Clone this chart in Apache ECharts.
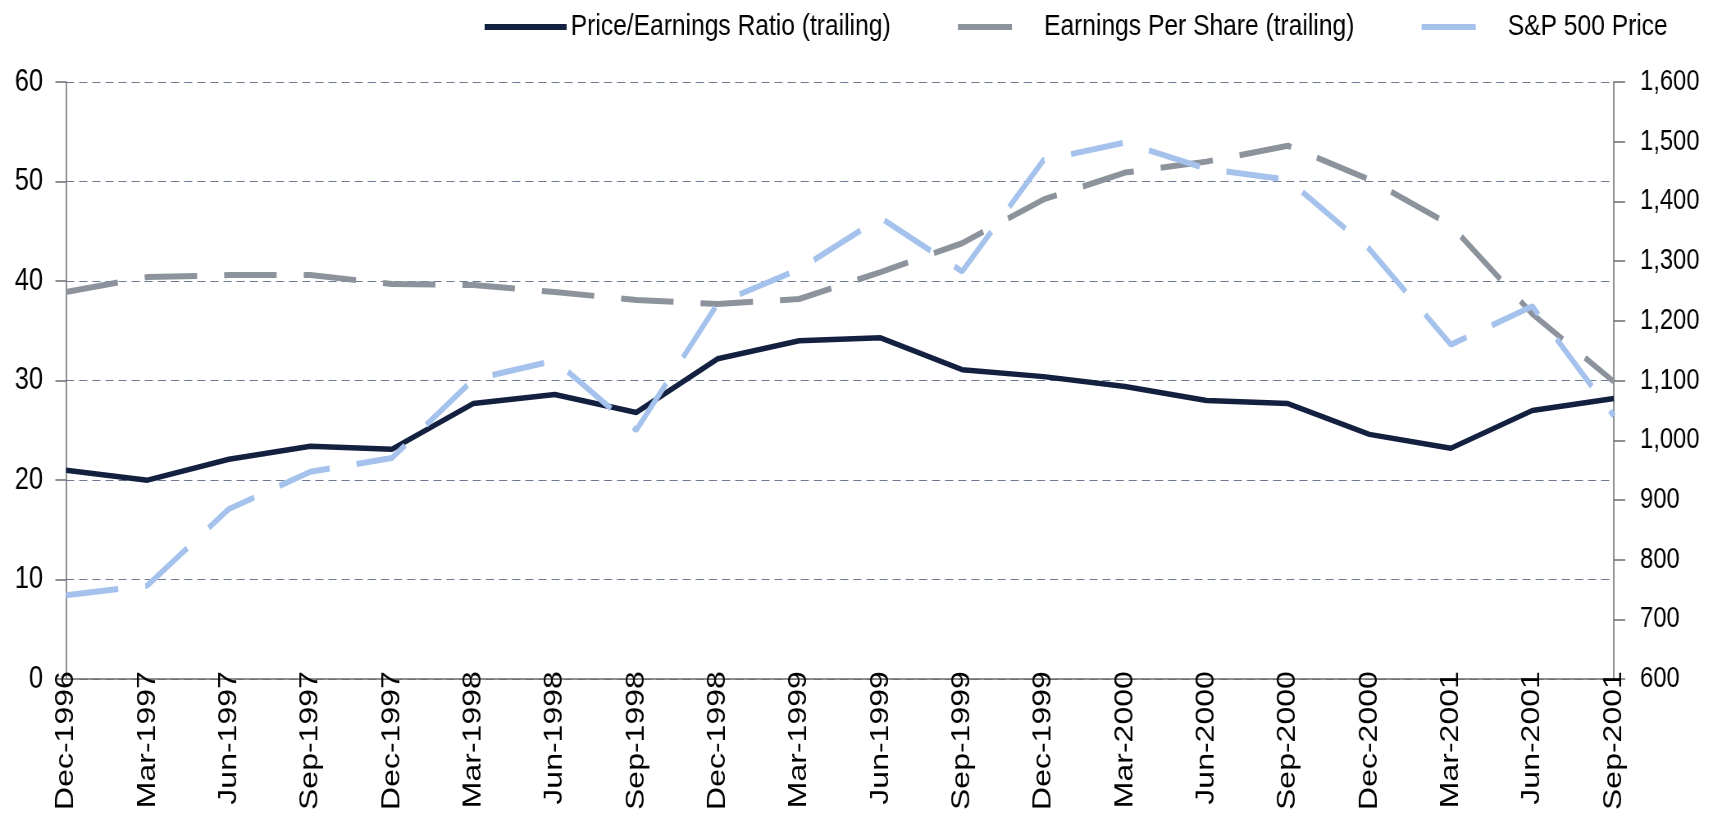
<!DOCTYPE html>
<html>
<head>
<meta charset="utf-8">
<script src="https://cdn.jsdelivr.net/npm/echarts@6/dist/echarts.min.js"></script>
<style>
  html, body { margin: 0; padding: 0; background: #fff; overflow: hidden; }
  /* the source chart is horizontally compressed; draw wider and squeeze to 1718px */
  #main { width: 2095px; height: 813px; transform: scaleX(0.82); transform-origin: 0 0; }
</style>
</head>
<body>
<div id="main"></div>
<script>
var quarters = ['Dec-1996', 'Mar-1997', 'Jun-1997', 'Sep-1997', 'Dec-1997', 'Mar-1998', 'Jun-1998', 'Sep-1998',
  'Dec-1998', 'Mar-1999', 'Jun-1999', 'Sep-1999', 'Dec-1999', 'Mar-2000', 'Jun-2000', 'Sep-2000',
  'Dec-2000', 'Mar-2001', 'Jun-2001', 'Sep-2001'];
var peRatio = [21.0, 20.0, 22.1, 23.4, 23.1, 27.7, 28.6, 26.8, 32.2, 34.0, 34.3, 31.1, 30.4, 29.4, 28.0, 27.7, 24.6, 23.2, 27.0, 28.2];
var eps = [38.9, 40.4, 40.6, 40.6, 39.7, 39.6, 38.9, 38.1, 37.7, 38.2, 40.9, 43.8, 48.2, 50.9, 52.0, 53.6, 50.2, 45.6, 36.7, 29.9];
var spxPrice = [740.7, 757.1, 885.1, 947.3, 970.4, 1101.8, 1133.8, 1017.0, 1229.2, 1286.4, 1372.7, 1282.7, 1469.3, 1498.6, 1454.6, 1436.5, 1320.3, 1160.3, 1224.4, 1040.9];

var font = "'Liberation Sans', Arial, sans-serif";
var dash = [64, 33];
// legend shows a single dash for the dashed series
var legendDash = [66, 100];

var myChart = echarts.init(document.getElementById('main'));
var option = {
  animation: false,
  legend: {
    left: 583,
    top: 7,
    itemWidth: 100,
    itemHeight: 30,
    itemGap: 79,
    itemStyle: { opacity: 0 },
    lineStyle: { width: 6 },
    textStyle: { fontFamily: font, fontSize: 30, color: '#000' },
    data: [
      { name: 'Price/Earnings Ratio (trailing)' },
      { name: 'Earnings Per Share (trailing)', lineStyle: { width: 6, type: legendDash } },
      { name: 'S&P 500 Price', lineStyle: { width: 6, type: legendDash } }
    ]
  },
  grid: { left: 80.5, right: 127, top: 82, bottom: 131 },
  xAxis: {
    type: 'category',
    boundaryGap: false,
    data: quarters,
    axisLine: { lineStyle: { color: '#6b6b6b', width: 1.5 } },
    axisTick: { show: false },
    axisLabel: {
      rotate: 90,
      margin: -8,
      interval: 0,
      fontFamily: font,
      fontSize: 32,
      color: '#000'
    }
  },
  yAxis: [{
    type: 'value',
    min: 0,
    max: 60,
    interval: 10,
    axisLine: { show: true, lineStyle: { color: '#6b6b6b', width: 1.5 } },
    axisTick: { show: true, length: 13, lineStyle: { color: '#6b6b6b', width: 1.5 } },
    axisLabel: { margin: 28, fontFamily: font, fontSize: 31, color: '#000' },
    splitLine: { show: true, lineStyle: { color: '#6e7a94', width: 1, type: [10, 6] } }
  }, {
    type: 'value',
    min: 600,
    max: 1600,
    interval: 100,
    position: 'right',
    axisLine: { show: true, lineStyle: { color: '#6b6b6b', width: 1.5 } },
    axisTick: { show: true, length: 14, lineStyle: { color: '#6b6b6b', width: 1.5 } },
    axisLabel: {
      margin: 32,
      fontFamily: font,
      fontSize: 29,
      color: '#000',
      formatter: function (v) { return v.toLocaleString('en-US'); }
    },
    splitLine: { show: false }
  }],
  series: [{
    name: 'Price/Earnings Ratio (trailing)',
    type: 'line',
    yAxisIndex: 0,
    data: peRatio,
    symbol: 'none',
    lineStyle: { color: '#13203f', width: 5.5 },
    itemStyle: { color: '#13203f' }
  }, {
    name: 'Earnings Per Share (trailing)',
    type: 'line',
    yAxisIndex: 0,
    data: eps,
    symbol: 'none',
    lineStyle: { color: '#8c939c', width: 6, type: dash },
    itemStyle: { color: '#8c939c' }
  }, {
    name: 'S&P 500 Price',
    type: 'line',
    yAxisIndex: 1,
    data: spxPrice,
    symbol: 'none',
    lineStyle: { color: '#a4c2ec', width: 6, type: dash },
    itemStyle: { color: '#a4c2ec' }
  }]
};
myChart.setOption(option);
</script>
</body>
</html>
